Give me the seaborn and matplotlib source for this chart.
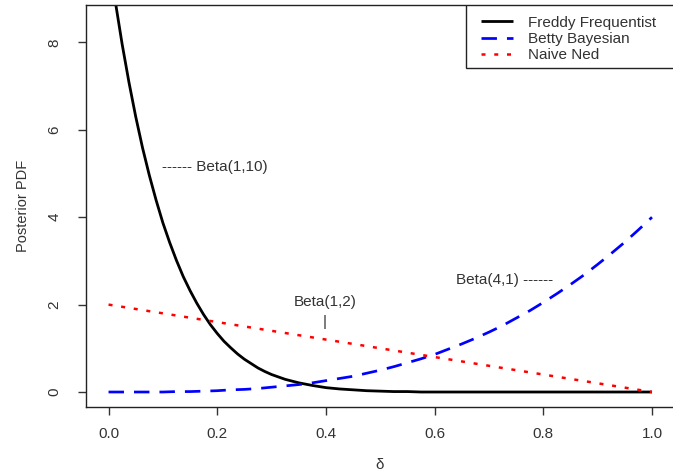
import matplotlib
matplotlib.use("Agg")
import matplotlib.pyplot as plt
import seaborn as sns
import numpy as np
from matplotlib.patches import Rectangle

# ---- data ----
delta = [0.000, 0.025, 0.050, 0.075, 0.100, 0.125, 0.150, 0.175, 0.200, 0.225,
         0.250, 0.275, 0.300, 0.325, 0.350, 0.375, 0.400, 0.425, 0.450, 0.475,
         0.500, 0.525, 0.550, 0.575, 0.600, 0.625, 0.650, 0.675, 0.700, 0.725,
         0.750, 0.775, 0.800, 0.825, 0.850, 0.875, 0.900, 0.925, 0.950, 0.975,
         1.000]
delta_freddy = [0.0000, 0.0125, 0.0250, 0.0375, 0.0500, 0.0625, 0.0750, 0.0875,
                0.1000, 0.1125, 0.1250, 0.1375, 0.1500, 0.1625, 0.1750, 0.1875,
                0.2000, 0.2125, 0.2250, 0.2375, 0.2500, 0.2625, 0.2750, 0.2875,
                0.300, 0.325, 0.350, 0.375, 0.400, 0.425, 0.450, 0.475,
                0.500, 0.525, 0.550, 0.575, 0.600, 0.700, 0.800, 0.900, 1.000]
freddy = [10.00, 8.93, 7.96, 7.09, 6.30, 5.59, 4.96, 4.39,
          3.87, 3.42, 3.01, 2.64, 2.32, 2.03, 1.77, 1.54,
          1.34, 1.16, 1.01, 0.87, 0.75, 0.65, 0.55, 0.47,
          0.40, 0.29, 0.21, 0.15, 0.10, 0.07, 0.05, 0.03,
          0.02, 0.01, 0.01, 0.00, 0.00, 0.00, 0.00, 0.00, 0.00]
betty = [0.00, 0.00, 0.00, 0.00, 0.00, 0.01, 0.01, 0.02, 0.03, 0.05,
         0.06, 0.08, 0.11, 0.14, 0.17, 0.21, 0.26, 0.31, 0.36, 0.43,
         0.50, 0.58, 0.67, 0.76, 0.86, 0.98, 1.10, 1.23, 1.37, 1.52,
         1.69, 1.86, 2.05, 2.25, 2.46, 2.68, 2.92, 3.17, 3.43, 3.71,
         4.00]
ned = [2.00, 1.95, 1.90, 1.85, 1.80, 1.75, 1.70, 1.65, 1.60, 1.55,
       1.50, 1.45, 1.40, 1.35, 1.30, 1.25, 1.20, 1.15, 1.10, 1.05,
       1.00, 0.95, 0.90, 0.85, 0.80, 0.75, 0.70, 0.65, 0.60, 0.55,
       0.50, 0.45, 0.40, 0.35, 0.30, 0.25, 0.20, 0.15, 0.10, 0.05,
       0.00]
series_names = ["Freddy Frequentist", "Betty Bayesian", "Naive Ned"]
x_ticks = [0.0, 0.2, 0.4, 0.6, 0.8, 1.0]
y_ticks = [0, 2, 4, 6, 8]

sns.set_theme(style="ticks")
plt.rcParams['font.family'] = ['Liberation Sans', 'DejaVu Sans']

TXT = '#333333'
fig = plt.figure(figsize=(6.73, 4.75), dpi=100)
W, H = 673, 475
ax_l, ax_r, ax_t, ax_b = 86, 674, 5, 407
ax = fig.add_axes([ax_l / W, 1 - ax_b / H, (ax_r - ax_l) / W, (ax_b - ax_t) / H])

sns.lineplot(x=delta_freddy, y=freddy, ax=ax, color='black', lw=2.0,
             label=series_names[0], estimator=None, sort=False)
sns.lineplot(x=delta, y=betty, ax=ax, color='#0000ff', lw=1.95,
             label=series_names[1], estimator=None, sort=False)
sns.lineplot(x=delta, y=ned, ax=ax, color='#ff0000', lw=1.8,
             label=series_names[2], estimator=None, sort=False)
lines = ax.get_lines()
lines[1].set_dashes((5.7, 3.7))
lines[2].set_dashes((1.6, 3.5))
for ln in lines:
    ln.set_solid_capstyle('butt')
    ln.set_dash_capstyle('butt')

ax.set_xlim(-0.0415, 1.0405)
ax.set_ylim(-0.343, 8.856)
ax.set_xticks(x_ticks)
ax.set_xticklabels(["0.0", "0.2", "0.4", "0.6", "0.8", "1.0"])
ax.set_yticks(y_ticks)
ax.set_yticklabels([str(v) for v in y_ticks], rotation=90, va='center')

for s in ax.spines.values():
    s.set_color('#222222')
    s.set_linewidth(1.0)
ax.tick_params(axis='both', direction='out', length=5.5, width=1.0,
               color='#333333', labelcolor=TXT, labelsize=11)
ax.tick_params(axis='x', pad=9)
ax.tick_params(axis='y', pad=12)

ax.set_xlabel("δ", fontsize=11, color=TXT, labelpad=12)
ax.set_ylabel("Posterior PDF", fontsize=10.5, color=TXT, labelpad=13)

# annotations
ax.text(0.098, 5.15, "------ Beta(1,10)", fontsize=11, color=TXT,
        ha='left', va='center')
ax.text(0.398, 2.06, "Beta(1,2)", fontsize=11, color=TXT,
        ha='center', va='center')
ax.text(0.398, 1.60, "|", fontsize=11, color=TXT, ha='center', va='center')
ax.text(0.640, 2.56, "Beta(4,1) ------", fontsize=11, color=TXT,
        ha='left', va='center')

# legend box (right edge falls outside the figure as in the reference)
leg_left = (466 - ax_l) / (ax_r - ax_l)
leg_bot = (ax_b - 68) / (ax_b - ax_t)
ax.add_patch(Rectangle((leg_left, leg_bot), 1.2 - leg_left, 1.0 - leg_bot,
                       transform=ax.transAxes, fill=True, facecolor='white',
                       edgecolor='#222222', lw=1.0, clip_on=True, zorder=5))
leg = ax.legend(loc='upper left',
                bbox_to_anchor=((481 - ax_l) / (ax_r - ax_l), (ax_b - 15.5) / (ax_b - ax_t)),
                frameon=False, borderpad=0, borderaxespad=0,
                handlelength=2.1, handletextpad=1.0, labelspacing=0.16,
                fontsize=11)
leg.set_zorder(6)
for t in leg.get_texts():
    t.set_color(TXT)

fig.savefig("out.png", dpi=100)
